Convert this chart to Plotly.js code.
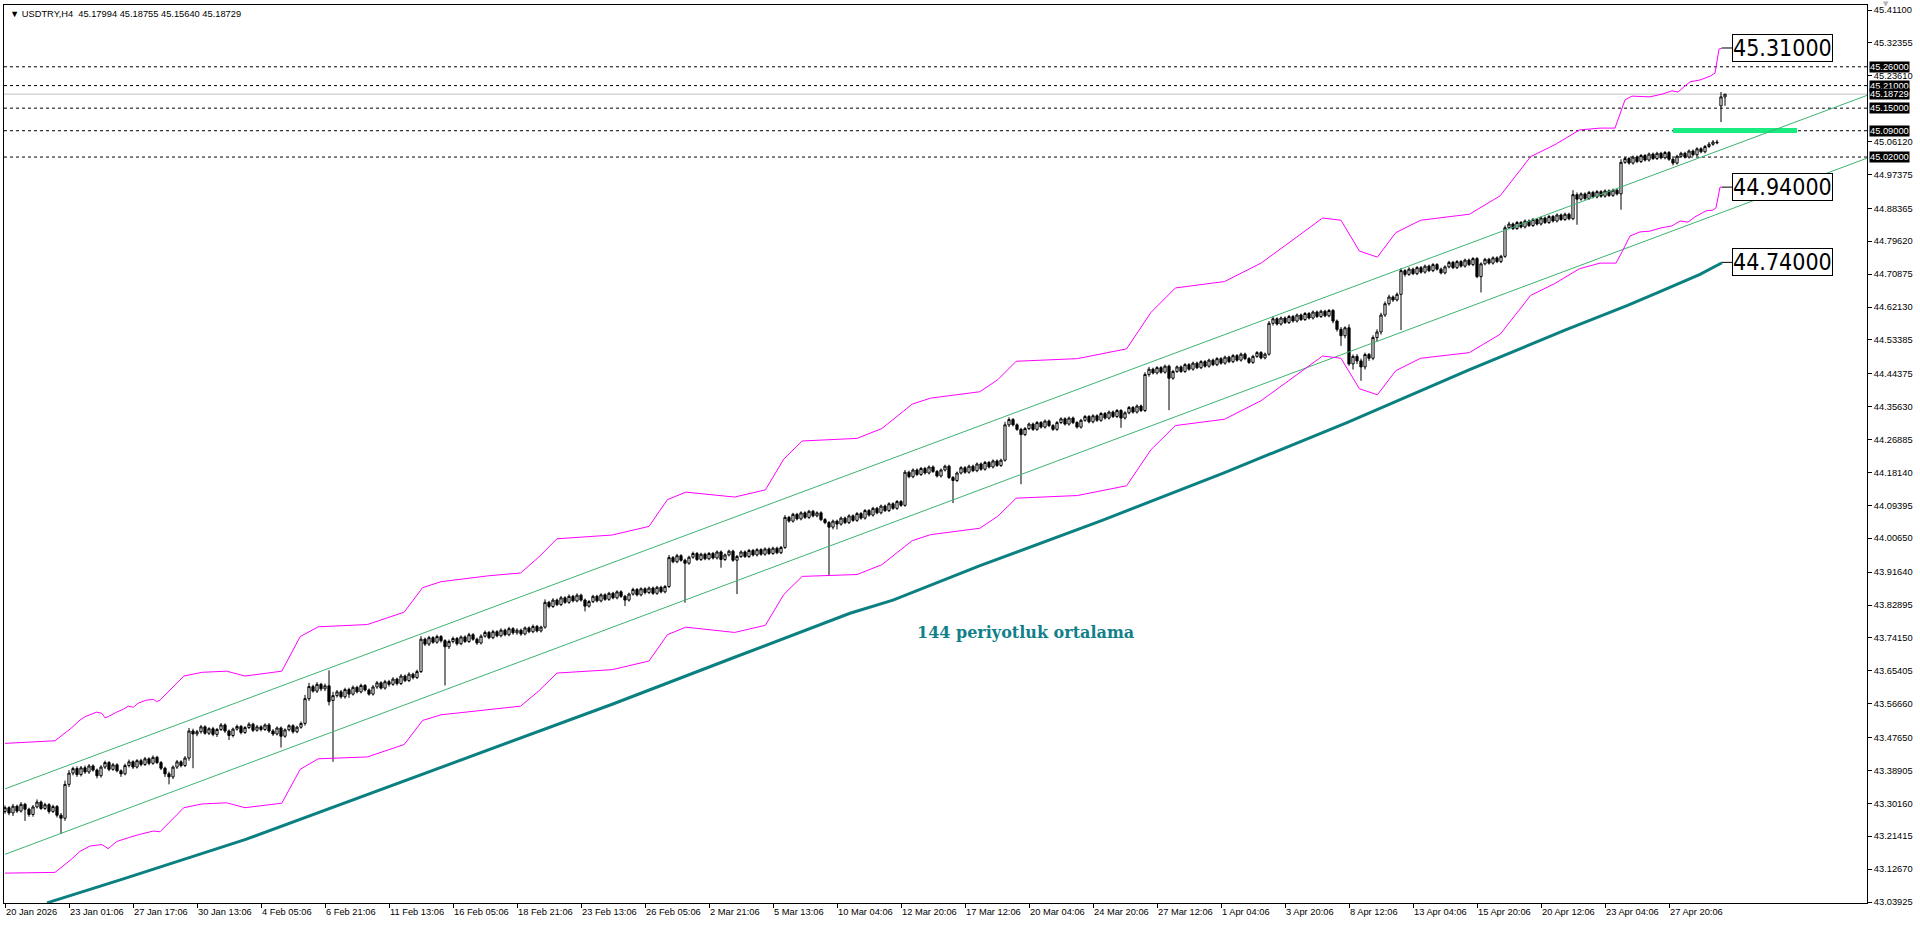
<!DOCTYPE html>
<html><head><meta charset="utf-8">
<script src="https://cdn.plot.ly/plotly-3.0.1.min.js"></script>
<style>html,body{margin:0;padding:0;background:#fff;overflow:hidden}#chart{width:1920px;height:927px}</style>
</head><body><div id="chart"></div>
<script>
// ---------------- data (USDTRY H4), one row = 16 bars ----------------
const openP = [
43.280,43.290,43.276,43.294,43.281,43.299,43.286,43.272,43.292,43.305,43.288,43.298,43.280,43.293,43.270,43.262,
43.352,43.382,43.394,43.378,43.396,43.385,43.401,43.390,43.375,43.398,43.410,43.392,43.404,43.388,43.380,43.402,
43.412,43.398,43.415,43.405,43.420,43.408,43.424,43.410,43.395,43.380,43.372,43.398,43.412,43.402,43.422,43.494,
43.486,43.492,43.505,43.488,43.500,43.485,43.498,43.510,43.494,43.482,43.499,43.506,43.490,43.503,43.512,43.496,
43.505,43.498,43.510,43.494,43.486,43.502,43.480,43.497,43.508,43.492,43.504,43.514,43.580,43.612,43.600,43.618,
43.606,43.614,43.575,43.588,43.598,43.585,43.604,43.592,43.610,43.598,43.615,43.603,43.592,43.611,43.622,43.608,
43.625,43.618,43.632,43.620,43.640,43.628,43.645,43.636,43.652,43.738,43.725,43.742,43.730,43.745,43.734,43.718,
43.732,43.740,43.726,43.744,43.732,43.750,43.738,43.728,43.746,43.756,43.742,43.758,43.747,43.762,43.750,43.766,
43.755,43.762,43.752,43.768,43.758,43.772,43.760,43.770,43.836,43.825,43.842,43.830,43.848,43.836,43.852,43.840,
43.855,43.842,43.826,43.838,43.852,43.840,43.856,43.844,43.860,43.848,43.864,43.852,43.842,43.858,43.870,43.856,
43.872,43.862,43.874,43.860,43.876,43.864,43.878,43.955,43.944,43.960,43.948,43.940,43.956,43.966,43.950,43.964,
43.952,43.966,43.954,43.970,43.950,43.962,43.972,43.948,43.958,43.970,43.958,43.974,43.962,43.976,43.964,43.978,
43.966,43.980,43.968,43.982,44.062,44.052,44.070,44.058,44.074,44.062,44.078,44.066,44.074,44.056,44.048,44.036,
44.052,44.044,44.060,44.048,44.066,44.054,44.072,44.060,44.080,44.068,44.086,44.074,44.092,44.080,44.098,44.086,
44.104,44.094,44.182,44.170,44.188,44.176,44.192,44.180,44.196,44.184,44.172,44.188,44.198,44.168,44.160,44.180,
44.194,44.182,44.198,44.186,44.204,44.190,44.208,44.196,44.212,44.200,44.214,44.308,44.322,44.308,44.296,44.282,
44.298,44.310,44.296,44.314,44.302,44.318,44.306,44.296,44.314,44.324,44.310,44.326,44.314,44.302,44.320,44.330,
44.316,44.332,44.320,44.338,44.326,44.342,44.330,44.346,44.326,44.340,44.354,44.342,44.358,44.346,44.442,44.456,
44.446,44.460,44.448,44.464,44.432,44.450,44.462,44.450,44.468,44.456,44.472,44.460,44.476,44.464,44.480,44.468,
44.484,44.472,44.488,44.476,44.492,44.480,44.496,44.484,44.474,44.490,44.500,44.486,44.496,44.578,44.590,44.576,
44.592,44.580,44.596,44.584,44.600,44.588,44.604,44.592,44.608,44.596,44.610,44.598,44.612,44.584,44.562,44.545,
44.566,44.470,44.490,44.478,44.462,44.495,44.485,44.540,44.555,44.600,44.630,44.648,44.640,44.655,44.718,44.708,
44.722,44.710,44.726,44.714,44.730,44.718,44.734,44.722,44.712,44.728,44.740,44.726,44.742,44.730,44.746,44.734,
44.750,44.702,44.736,44.748,44.738,44.752,44.742,44.756,44.832,44.842,44.830,44.846,44.834,44.850,44.838,44.854,
44.842,44.858,44.846,44.862,44.850,44.866,44.854,44.868,44.856,44.920,44.908,44.922,44.910,44.926,44.914,44.928,
44.916,44.930,44.918,44.932,44.922,45.006,45.016,45.004,45.020,45.008,45.024,45.012,45.028,45.016,45.030,45.018,
45.032,45.014,45.004,45.022,45.030,45.020,45.036,45.026,45.042,45.034,45.048,45.054,45.060,45.156,45.17994];
const highP = [
43.296,43.294,43.300,43.298,43.305,43.303,43.290,43.297,43.312,43.309,43.303,43.302,43.298,43.297,43.276,43.362,
43.390,43.399,43.400,43.401,43.402,43.406,43.405,43.394,43.403,43.415,43.414,43.409,43.408,43.392,43.407,43.418,
43.416,43.419,43.420,43.425,43.424,43.429,43.428,43.414,43.399,43.386,43.402,43.417,43.416,43.427,43.502,43.500,
43.497,43.510,43.509,43.504,43.505,43.502,43.515,43.514,43.498,43.503,43.511,43.510,43.507,43.517,43.516,43.510,
43.509,43.514,43.515,43.499,43.506,43.506,43.501,43.512,43.512,43.508,43.519,43.590,43.622,43.617,43.624,43.622,
43.620,43.655,43.598,43.603,43.603,43.609,43.609,43.615,43.614,43.620,43.619,43.607,43.616,43.627,43.626,43.630,
43.630,43.637,43.636,43.645,43.644,43.650,43.649,43.657,43.746,43.742,43.747,43.746,43.750,43.749,43.738,43.737,
43.745,43.744,43.748,43.748,43.755,43.754,43.742,43.751,43.761,43.760,43.763,43.762,43.767,43.766,43.771,43.770,
43.767,43.766,43.772,43.772,43.777,43.776,43.774,43.844,43.840,43.847,43.846,43.853,43.852,43.857,43.856,43.860,
43.859,43.846,43.842,43.856,43.856,43.860,43.860,43.864,43.864,43.868,43.868,43.856,43.862,43.875,43.874,43.876,
43.876,43.878,43.878,43.880,43.880,43.882,43.962,43.959,43.965,43.964,43.952,43.960,43.971,43.970,43.968,43.968,
43.970,43.970,43.974,43.974,43.966,43.976,43.976,43.962,43.974,43.974,43.978,43.978,43.980,43.980,43.982,43.982,
43.984,43.984,43.986,44.068,44.066,44.074,44.074,44.078,44.078,44.082,44.082,44.078,44.078,44.060,44.052,44.056,
44.056,44.064,44.064,44.070,44.070,44.076,44.076,44.084,44.084,44.090,44.090,44.096,44.096,44.102,44.102,44.108,
44.108,44.188,44.186,44.192,44.192,44.196,44.196,44.200,44.200,44.188,44.192,44.202,44.202,44.172,44.184,44.198,
44.198,44.202,44.202,44.208,44.208,44.212,44.212,44.216,44.216,44.218,44.316,44.328,44.326,44.312,44.300,44.302,
44.314,44.314,44.318,44.318,44.322,44.322,44.310,44.318,44.328,44.328,44.330,44.330,44.318,44.324,44.334,44.334,
44.336,44.336,44.342,44.342,44.346,44.346,44.350,44.350,44.344,44.358,44.358,44.362,44.362,44.448,44.462,44.460,
44.464,44.464,44.468,44.468,44.454,44.466,44.466,44.472,44.472,44.476,44.476,44.480,44.480,44.484,44.484,44.488,
44.488,44.492,44.492,44.496,44.496,44.500,44.500,44.488,44.494,44.504,44.504,44.500,44.584,44.596,44.594,44.596,
44.596,44.600,44.600,44.604,44.604,44.608,44.608,44.612,44.612,44.614,44.614,44.616,44.616,44.588,44.568,44.570,
44.575,44.495,44.496,44.484,44.500,44.499,44.546,44.562,44.606,44.636,44.654,44.652,44.660,44.725,44.722,44.727,
44.726,44.730,44.730,44.734,44.734,44.738,44.738,44.726,44.732,44.744,44.744,44.746,44.746,44.750,44.750,44.754,
44.754,44.740,44.752,44.752,44.756,44.756,44.760,44.838,44.848,44.846,44.850,44.850,44.854,44.854,44.858,44.858,
44.862,44.862,44.866,44.866,44.870,44.870,44.872,44.872,44.932,44.926,44.926,44.926,44.930,44.930,44.932,44.932,
44.934,44.934,44.936,44.936,45.014,45.020,45.020,45.024,45.024,45.028,45.028,45.032,45.032,45.034,45.034,45.036,
45.036,45.018,45.026,45.034,45.034,45.040,45.040,45.046,45.046,45.052,45.060,45.065,45.066,45.193,45.18755];
const lowP = [
43.274,43.270,43.268,43.276,43.277,43.255,43.266,43.266,43.288,43.284,43.284,43.274,43.276,43.264,43.220,43.255,
43.345,43.376,43.372,43.373,43.380,43.380,43.386,43.368,43.370,43.393,43.387,43.388,43.384,43.372,43.376,43.397,
43.393,43.394,43.400,43.401,43.403,43.404,43.406,43.390,43.372,43.352,43.366,43.393,43.397,43.398,43.415,43.395,
43.480,43.487,43.484,43.483,43.480,43.478,43.494,43.489,43.470,43.477,43.495,43.485,43.486,43.499,43.491,43.492,
43.493,43.494,43.489,43.481,43.482,43.450,43.476,43.493,43.487,43.488,43.500,43.508,43.574,43.596,43.595,43.600,
43.600,43.562,43.412,43.583,43.580,43.580,43.582,43.588,43.594,43.594,43.599,43.588,43.588,43.606,43.604,43.604,
43.612,43.614,43.615,43.616,43.624,43.624,43.631,43.632,43.648,43.720,43.720,43.726,43.726,43.729,43.615,43.712,
43.727,43.721,43.722,43.728,43.728,43.734,43.723,43.724,43.742,43.738,43.738,43.743,43.743,43.746,43.746,43.750,
43.750,43.747,43.748,43.754,43.754,43.756,43.756,43.766,43.820,43.821,43.826,43.826,43.832,43.832,43.836,43.836,
43.838,43.812,43.822,43.834,43.836,43.836,43.840,43.840,43.844,43.844,43.848,43.826,43.838,43.854,43.852,43.852,
43.857,43.858,43.856,43.856,43.860,43.860,43.874,43.940,43.940,43.944,43.835,43.936,43.952,43.946,43.946,43.948,
43.948,43.950,43.950,43.928,43.946,43.958,43.944,43.858,43.954,43.954,43.954,43.958,43.958,43.960,43.960,43.962,
43.962,43.964,43.964,43.978,44.048,44.048,44.054,44.054,44.058,44.058,44.062,44.062,44.052,44.044,43.907,44.030,
44.030,44.040,44.044,44.044,44.050,44.050,44.056,44.056,44.064,44.064,44.070,44.070,44.076,44.076,44.082,44.082,
44.090,44.090,44.166,44.166,44.172,44.172,44.176,44.176,44.180,44.168,44.168,44.184,44.164,44.100,44.156,44.176,
44.178,44.178,44.182,44.182,44.186,44.186,44.192,44.192,44.196,44.196,44.210,44.302,44.304,44.292,44.150,44.278,
44.294,44.292,44.292,44.298,44.298,44.302,44.292,44.292,44.310,44.306,44.306,44.310,44.298,44.298,44.316,44.312,
44.312,44.316,44.316,44.322,44.322,44.326,44.326,44.300,44.322,44.336,44.338,44.338,44.342,44.342,44.436,44.442,
44.442,44.444,44.444,44.347,44.428,44.446,44.446,44.446,44.452,44.452,44.456,44.456,44.460,44.460,44.464,44.464,
44.468,44.468,44.472,44.472,44.476,44.476,44.480,44.470,44.470,44.486,44.482,44.482,44.492,44.572,44.572,44.572,
44.576,44.576,44.580,44.580,44.584,44.584,44.588,44.588,44.592,44.592,44.594,44.594,44.578,44.556,44.518,44.538,
44.465,44.455,44.470,44.425,44.455,44.478,44.480,44.530,44.548,44.595,44.625,44.635,44.636,44.560,44.702,44.704,
44.706,44.706,44.710,44.710,44.714,44.714,44.718,44.708,44.708,44.724,44.722,44.722,44.726,44.726,44.730,44.730,
44.698,44.660,44.732,44.734,44.734,44.738,44.738,44.752,44.828,44.826,44.826,44.830,44.830,44.834,44.834,44.838,
44.838,44.842,44.842,44.846,44.846,44.850,44.850,44.852,44.852,44.840,44.904,44.906,44.906,44.910,44.910,44.912,
44.912,44.914,44.914,44.918,44.880,45.002,45.000,45.000,45.004,45.004,45.008,45.008,45.012,45.012,45.014,45.014,
45.010,44.998,45.000,45.018,45.016,45.016,45.022,45.022,45.030,45.030,45.044,45.050,45.054,45.113,45.15640];
const closeP = [
43.290,43.276,43.294,43.281,43.299,43.286,43.272,43.292,43.305,43.288,43.298,43.280,43.293,43.270,43.262,43.352,
43.382,43.394,43.378,43.396,43.385,43.401,43.390,43.375,43.398,43.410,43.392,43.404,43.388,43.380,43.402,43.412,
43.398,43.415,43.405,43.420,43.408,43.424,43.410,43.395,43.380,43.372,43.398,43.412,43.402,43.422,43.494,43.486,
43.492,43.505,43.488,43.500,43.485,43.498,43.510,43.494,43.482,43.499,43.506,43.490,43.503,43.512,43.496,43.505,
43.498,43.510,43.494,43.486,43.502,43.480,43.497,43.508,43.492,43.504,43.514,43.580,43.612,43.600,43.618,43.606,
43.614,43.572,43.588,43.598,43.585,43.604,43.592,43.610,43.598,43.615,43.603,43.592,43.611,43.622,43.608,43.625,
43.618,43.632,43.620,43.640,43.628,43.645,43.636,43.652,43.738,43.725,43.742,43.730,43.745,43.734,43.718,43.732,
43.740,43.726,43.744,43.732,43.750,43.738,43.728,43.746,43.756,43.742,43.758,43.747,43.762,43.750,43.766,43.755,
43.762,43.752,43.768,43.758,43.772,43.760,43.770,43.836,43.825,43.842,43.830,43.848,43.836,43.852,43.840,43.855,
43.842,43.826,43.838,43.852,43.840,43.856,43.844,43.860,43.848,43.864,43.852,43.842,43.858,43.870,43.856,43.872,
43.862,43.874,43.860,43.876,43.864,43.878,43.955,43.944,43.960,43.948,43.940,43.956,43.966,43.950,43.964,43.952,
43.966,43.954,43.970,43.950,43.962,43.972,43.948,43.958,43.970,43.958,43.974,43.962,43.976,43.964,43.978,43.966,
43.980,43.968,43.982,44.062,44.052,44.070,44.058,44.074,44.062,44.078,44.066,44.074,44.056,44.048,44.036,44.052,
44.044,44.060,44.048,44.066,44.054,44.072,44.060,44.080,44.068,44.086,44.074,44.092,44.080,44.098,44.086,44.104,
44.094,44.182,44.170,44.188,44.176,44.192,44.180,44.196,44.184,44.172,44.188,44.198,44.168,44.160,44.180,44.194,
44.182,44.198,44.186,44.204,44.190,44.208,44.196,44.212,44.200,44.214,44.308,44.322,44.308,44.296,44.282,44.298,
44.310,44.296,44.314,44.302,44.318,44.306,44.296,44.314,44.324,44.310,44.326,44.314,44.302,44.320,44.330,44.316,
44.332,44.320,44.338,44.326,44.342,44.330,44.346,44.326,44.340,44.354,44.342,44.358,44.346,44.442,44.456,44.446,
44.460,44.448,44.464,44.432,44.450,44.462,44.450,44.468,44.456,44.472,44.460,44.476,44.464,44.480,44.468,44.484,
44.472,44.488,44.476,44.492,44.480,44.496,44.484,44.474,44.490,44.500,44.486,44.496,44.578,44.590,44.576,44.592,
44.580,44.596,44.584,44.600,44.588,44.604,44.592,44.608,44.596,44.610,44.598,44.612,44.584,44.562,44.545,44.566,
44.470,44.490,44.478,44.462,44.495,44.485,44.540,44.555,44.600,44.630,44.648,44.640,44.655,44.718,44.708,44.722,
44.710,44.726,44.714,44.730,44.718,44.734,44.722,44.712,44.728,44.740,44.726,44.742,44.730,44.746,44.734,44.750,
44.702,44.736,44.748,44.738,44.752,44.742,44.756,44.832,44.842,44.830,44.846,44.834,44.850,44.838,44.854,44.842,
44.858,44.846,44.862,44.850,44.866,44.854,44.868,44.856,44.920,44.908,44.922,44.910,44.926,44.914,44.928,44.916,
44.930,44.918,44.932,44.922,45.006,45.016,45.004,45.020,45.008,45.024,45.012,45.028,45.016,45.030,45.018,45.032,
45.014,45.004,45.022,45.030,45.020,45.036,45.026,45.042,45.034,45.048,45.054,45.060,45.058,45.180,45.18729];

const tickLabels = ["20 Jan 2026","23 Jan 01:06","27 Jan 17:06","30 Jan 13:06","4 Feb 05:06","6 Feb 21:06","11 Feb 13:06","16 Feb 05:06","18 Feb 21:06","23 Feb 13:06","26 Feb 05:06","2 Mar 21:06","5 Mar 13:06","10 Mar 04:06","12 Mar 20:06","17 Mar 12:06","20 Mar 04:06","24 Mar 20:06","27 Mar 12:06","1 Apr 04:06","3 Apr 20:06","8 Apr 12:06","13 Apr 04:06","15 Apr 20:06","20 Apr 12:06","23 Apr 04:06","27 Apr 20:06"];
const tickBars = [0,16,32,48,64,80,96,112,128,144,160,176,192,208,224,240,256,272,288,304,320,336,352,368,384,400,416];
const yTicks = [45.41100,45.32355,45.23610,45.06120,44.97375,44.88365,44.79620,44.70875,44.62130,44.53385,44.44375,44.35630,44.26885,44.18140,44.09395,44.00650,43.91640,43.82895,43.74150,43.65405,43.56660,43.47650,43.38905,43.30160,43.21415,43.12670,43.03925];

// 144-period moving average
const maX = [10.5,29.4,60,90.6,121.2,151.8,182.4,211.25,222,243.6,274.3,304.9,335.5,366,390,405.5,413.75,418.75,423.75,429.25];
const maY = [43.037,43.100,43.205,43.325,43.445,43.565,43.690,43.807,43.842,43.933,44.054,44.181,44.314,44.454,44.560,44.625,44.662,44.684,44.708,44.739];

// envelope bands
const upX = [0,12.5,16.5,18.75,20,21.25,22.9,24.2,25,25.8,26.7,27.9,29.6,30.8,32.1,33.3,35.4,37.1,37.9,38.75,44.7,49.3,55.4,60,69.2,73.8,78.3,90.6,99.8,104.4,109,121.2,128.9,133.4,138,151.8,161,165.6,170.2,182.4,190.1,194.7,199.3,213,219.2,226.8,231.4,243.7,248.2,252.8,268.1,280.4,286.5,292.6,304.9,314,320.2,329.4,334,338.6,343.1,347.7,353.9,366.1,373.8,381.4,387.5,393.6,398.75,402.5,405,406.75,411.25,414.5,416.75,418.25,420,421.25,423.75,426.25,427.5,428.5,429.25];
const upY = [43.461,43.468,43.501,43.523,43.532,43.538,43.544,43.541,43.529,43.532,43.538,43.544,43.552,43.560,43.557,43.568,43.576,43.578,43.572,43.576,43.640,43.650,43.653,43.640,43.653,43.745,43.771,43.777,43.810,43.875,43.891,43.907,43.914,43.956,44.005,44.015,44.038,44.109,44.129,44.116,44.135,44.217,44.265,44.272,44.298,44.363,44.379,44.396,44.428,44.477,44.484,44.510,44.607,44.672,44.689,44.738,44.786,44.858,44.852,44.770,44.754,44.819,44.852,44.868,44.917,45.021,45.053,45.092,45.097,45.097,45.172,45.182,45.180,45.188,45.196,45.193,45.209,45.220,45.225,45.235,45.243,45.307,45.310];
const loX = [0,12.5,16.5,18.75,21.25,24.2,25.8,27.9,30.8,33.3,37.1,38.75,44.7,49.3,55.4,60,69.2,73.8,78.3,90.6,99.8,104.4,109,121.2,128.9,133.4,138,151.8,161,165.6,170.2,182.4,190.1,194.7,199.3,213,219.2,226.8,231.4,243.7,248.2,252.8,268.1,280.4,286.5,292.6,304.9,314,320.2,329.4,334,338.6,343.1,347.7,353.9,366.1,373.8,381.4,387.5,393.6,398.75,402.75,404.5,406.25,408.75,411.25,413.75,416.75,418.75,420.75,422.5,425.25,427,427.75,428.75,429.25];
const loY = [43.116,43.118,43.152,43.174,43.188,43.192,43.181,43.200,43.210,43.218,43.228,43.226,43.290,43.300,43.303,43.290,43.302,43.392,43.420,43.425,43.458,43.522,43.537,43.552,43.560,43.600,43.648,43.657,43.680,43.750,43.770,43.756,43.775,43.857,43.905,43.910,43.936,44.000,44.016,44.033,44.065,44.113,44.120,44.146,44.242,44.306,44.323,44.372,44.420,44.491,44.485,44.404,44.388,44.452,44.485,44.500,44.549,44.652,44.684,44.723,44.738,44.738,44.773,44.810,44.821,44.823,44.831,44.837,44.850,44.847,44.861,44.877,44.879,44.885,44.940,44.940];

// trend channel
const chanUpX = [0,465.5], chanUpY = [43.340,45.184];
const chanLoX = [0,465.5], chanLoY = [43.166,45.017];

// levels and labels
const hLevels = [45.26,45.21,45.15,45.09,45.02];
const bidPrice = 45.18729;
const priceTags = ["45.26000","45.21000","45.18729","45.15000","45.09000","45.02000"];
const priceTagY = [45.26,45.21,45.18729,45.15,45.09,45.02];
const boxValues = [45.31,44.94,44.74];
const boxTexts = ["45.31000","44.94000","44.74000"];
const lastBar = 429.25;
const zoneX = [417,448], zoneY = [45.084,45.097];

// ---------------- chart ----------------
const barIndex = openP.map((_, i) => i);
const traces = [
 {type:'scatter',mode:'lines',x:chanUpX,y:chanUpY,line:{color:'#3cb371',width:1},hoverinfo:'skip'},
 {type:'scatter',mode:'lines',x:chanLoX,y:chanLoY,line:{color:'#3cb371',width:1},hoverinfo:'skip'},
 {type:'scatter',mode:'lines',x:maX,y:maY,line:{color:'#0b8080',width:3},hoverinfo:'skip'},
 {type:'scatter',mode:'lines',x:upX,y:upY,line:{color:'#ff00ff',width:1},hoverinfo:'skip'},
 {type:'scatter',mode:'lines',x:loX,y:loY,line:{color:'#ff00ff',width:1},hoverinfo:'skip'},
 {type:'candlestick',x:barIndex,open:openP,high:highP,low:lowP,close:closeP,whiskerwidth:0,
  increasing:{line:{color:'#000',width:1},fillcolor:'#fff'},
  decreasing:{line:{color:'#000',width:1},fillcolor:'#000'},hoverinfo:'skip'}
];

const shapes = [];
hLevels.forEach(v=>shapes.push({type:'line',xref:'paper',x0:0,x1:1,yref:'y',y0:v,y1:v,line:{color:'#000',width:1,dash:'3px,3px'},layer:'below'}));
shapes.push({type:'line',xref:'paper',x0:0,x1:1,yref:'y',y0:bidPrice,y1:bidPrice,line:{color:'#c0c0c0',width:1},layer:'below'});
shapes.push({type:'rect',x0:zoneX[0],x1:zoneX[1],y0:zoneY[0],y1:zoneY[1],line:{width:0},fillcolor:'#18eb80',layer:'below'});
boxValues.forEach(v=>shapes.push({type:'line',x0:lastBar,x1:lastBar+2.5,y0:v,y1:v,line:{color:'#000',width:1}}));

const small = {family:'Liberation Sans, Arial, sans-serif',size:9.3,color:'#000'};
const annotations = [];
tickBars.forEach((b,i)=>annotations.push({x:b,xref:'x',y:0,yref:'paper',yanchor:'top',xanchor:'left',xshift:-1,yshift:-2,text:tickLabels[i],showarrow:false,font:small}));
priceTags.forEach((t,i)=>annotations.push({x:1,xref:'paper',xanchor:'left',xshift:2,y:priceTagY[i],yref:'y',yanchor:'middle',text:t,showarrow:false,bgcolor:'#000',borderpad:0,font:{family:'Liberation Sans, Arial, sans-serif',size:9.3,color:'#fff'}}));
boxValues.forEach((v,i)=>annotations.push({x:lastBar+2.5,xref:'x',xanchor:'left',y:v,yref:'y',yanchor:'middle',text:boxTexts[i],showarrow:false,bgcolor:'#fff',bordercolor:'#000',borderwidth:1,borderpad:0,font:{family:'Liberation Sans Narrow, DejaVu Sans Condensed, sans-serif',size:23,color:'#000'}}));
annotations.push({x:0,xref:'paper',xanchor:'left',xshift:4,y:1,yref:'paper',yanchor:'top',yshift:-2,text:'\u25BC USDTRY,H4\u00a0\u00a045.17994 45.18755 45.15640 45.18729',showarrow:false,font:small});
annotations.push({x:255,xref:'x',xanchor:'center',y:43.757,yref:'y',yanchor:'middle',text:'<b>144 periyotluk ortalama</b>',showarrow:false,font:{family:'DejaVu Serif, serif',size:16,color:'#12808a'}});
annotations.push({x:1.0102,xref:'paper',xanchor:'center',y:1,yref:'paper',yanchor:'middle',yshift:1,text:'\u25BC',showarrow:false,font:{family:'DejaVu Sans, sans-serif',size:7,color:'#b4b4b4'}});

const layout = {
 width:1920,height:927,margin:{l:4,r:53,t:5,b:24,pad:0},
 paper_bgcolor:'#fff',plot_bgcolor:'#fff',showlegend:false,boxgap:0.45,boxgroupgap:0,
 xaxis:{range:[-0.25,465.5],showgrid:false,zeroline:false,showline:true,linecolor:'#000',linewidth:1,mirror:true,ticks:'outside',ticklen:4,tickcolor:'#000',tickvals:tickBars,showticklabels:false,rangeslider:{visible:false},fixedrange:true},
 yaxis:{range:[43.0366,45.4243],side:'right',showgrid:false,zeroline:false,showline:true,linecolor:'#000',linewidth:1,mirror:true,ticks:'outside',ticklen:4,tickcolor:'#000',tickvals:yTicks,ticktext:yTicks.map(v=>v.toFixed(5)),tickfont:small,fixedrange:true},
 shapes:shapes,annotations:annotations
};
Plotly.newPlot('chart',traces,layout,{displayModeBar:false,staticPlot:true});
</script></body></html>
